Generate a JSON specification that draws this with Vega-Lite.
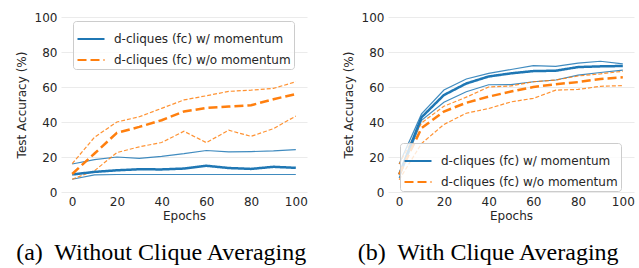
{
  "$schema": "https://vega.github.io/schema/vega-lite/v6.json",
  "padding": {"left": 15, "top": 11, "right": 0, "bottom": 0},
  "spacing": 34,
  "config": {
    "font": "DejaVu Sans",
    "view": {"stroke": null},
    "axis": {"domain": false, "ticks": false, "gridColor": "#ebebeb", "gridWidth": 1, "labelColor": "#262626", "titleColor": "#262626", "labelFontSize": 12, "titleFontSize": 12, "titleFontWeight": "normal", "labelFont": "DejaVu Sans", "titleFont": "DejaVu Sans"},
    "axisX": {"labelPadding": 4, "titlePadding": 3, "grid": false},
    "axisY": {"labelPadding": 4, "titlePadding": 6},
    "legend": {"title": null, "fillColor": "rgba(255,255,255,0.8)", "strokeColor": "#cccccc", "cornerRadius": 3, "padding": 3, "rowPadding": -11, "symbolType": "stroke", "symbolSize": 729, "symbolStrokeWidth": 2.2, "labelFontSize": 12, "labelColor": "#262626", "labelFont": "DejaVu Sans", "labelOffset": 8, "labelLimit": 400},
    "title": {"font": "Liberation Serif", "fontSize": 24, "fontWeight": "normal", "color": "#000000", "orient": "bottom", "frame": "bounds", "anchor": "middle", "offset": 20}
  },
  "datasets": {
    "a": [
      {"e": 0, "s": "d-cliques (fc) w/ momentum", "k": "mean", "v": 10},
      {"e": 10, "s": "d-cliques (fc) w/ momentum", "k": "mean", "v": 11.5},
      {"e": 20, "s": "d-cliques (fc) w/ momentum", "k": "mean", "v": 12.4},
      {"e": 30, "s": "d-cliques (fc) w/ momentum", "k": "mean", "v": 13},
      {"e": 40, "s": "d-cliques (fc) w/ momentum", "k": "mean", "v": 12.9},
      {"e": 50, "s": "d-cliques (fc) w/ momentum", "k": "mean", "v": 13.4},
      {"e": 60, "s": "d-cliques (fc) w/ momentum", "k": "mean", "v": 15},
      {"e": 70, "s": "d-cliques (fc) w/ momentum", "k": "mean", "v": 13.7},
      {"e": 80, "s": "d-cliques (fc) w/ momentum", "k": "mean", "v": 13.2},
      {"e": 90, "s": "d-cliques (fc) w/ momentum", "k": "mean", "v": 14.4},
      {"e": 100, "s": "d-cliques (fc) w/ momentum", "k": "mean", "v": 13.8},
      {"e": 0, "s": "d-cliques (fc) w/ momentum", "k": "hi", "v": 16},
      {"e": 10, "s": "d-cliques (fc) w/ momentum", "k": "hi", "v": 18.5},
      {"e": 20, "s": "d-cliques (fc) w/ momentum", "k": "hi", "v": 20},
      {"e": 30, "s": "d-cliques (fc) w/ momentum", "k": "hi", "v": 19.2},
      {"e": 40, "s": "d-cliques (fc) w/ momentum", "k": "hi", "v": 20.4},
      {"e": 50, "s": "d-cliques (fc) w/ momentum", "k": "hi", "v": 21.9},
      {"e": 60, "s": "d-cliques (fc) w/ momentum", "k": "hi", "v": 23.7},
      {"e": 70, "s": "d-cliques (fc) w/ momentum", "k": "hi", "v": 22.9},
      {"e": 80, "s": "d-cliques (fc) w/ momentum", "k": "hi", "v": 23.1},
      {"e": 90, "s": "d-cliques (fc) w/ momentum", "k": "hi", "v": 23.5},
      {"e": 100, "s": "d-cliques (fc) w/ momentum", "k": "hi", "v": 24.2},
      {"e": 0, "s": "d-cliques (fc) w/ momentum", "k": "lo", "v": 7.3},
      {"e": 10, "s": "d-cliques (fc) w/ momentum", "k": "lo", "v": 9.8},
      {"e": 20, "s": "d-cliques (fc) w/ momentum", "k": "lo", "v": 10},
      {"e": 30, "s": "d-cliques (fc) w/ momentum", "k": "lo", "v": 10},
      {"e": 40, "s": "d-cliques (fc) w/ momentum", "k": "lo", "v": 10},
      {"e": 50, "s": "d-cliques (fc) w/ momentum", "k": "lo", "v": 10},
      {"e": 60, "s": "d-cliques (fc) w/ momentum", "k": "lo", "v": 10},
      {"e": 70, "s": "d-cliques (fc) w/ momentum", "k": "lo", "v": 10},
      {"e": 80, "s": "d-cliques (fc) w/ momentum", "k": "lo", "v": 10},
      {"e": 90, "s": "d-cliques (fc) w/ momentum", "k": "lo", "v": 10},
      {"e": 100, "s": "d-cliques (fc) w/ momentum", "k": "lo", "v": 10},
      {"e": 0, "s": "d-cliques (fc) w/o momentum", "k": "mean", "v": 10.3},
      {"e": 10, "s": "d-cliques (fc) w/o momentum", "k": "mean", "v": 22},
      {"e": 20, "s": "d-cliques (fc) w/o momentum", "k": "mean", "v": 33.8},
      {"e": 30, "s": "d-cliques (fc) w/o momentum", "k": "mean", "v": 37.2},
      {"e": 40, "s": "d-cliques (fc) w/o momentum", "k": "mean", "v": 41},
      {"e": 50, "s": "d-cliques (fc) w/o momentum", "k": "mean", "v": 46},
      {"e": 60, "s": "d-cliques (fc) w/o momentum", "k": "mean", "v": 48},
      {"e": 70, "s": "d-cliques (fc) w/o momentum", "k": "mean", "v": 48.8},
      {"e": 80, "s": "d-cliques (fc) w/o momentum", "k": "mean", "v": 49.6},
      {"e": 90, "s": "d-cliques (fc) w/o momentum", "k": "mean", "v": 53},
      {"e": 100, "s": "d-cliques (fc) w/o momentum", "k": "mean", "v": 56},
      {"e": 0, "s": "d-cliques (fc) w/o momentum", "k": "hi", "v": 16.2},
      {"e": 10, "s": "d-cliques (fc) w/o momentum", "k": "hi", "v": 31.3},
      {"e": 20, "s": "d-cliques (fc) w/o momentum", "k": "hi", "v": 40},
      {"e": 30, "s": "d-cliques (fc) w/o momentum", "k": "hi", "v": 43},
      {"e": 40, "s": "d-cliques (fc) w/o momentum", "k": "hi", "v": 47.8},
      {"e": 50, "s": "d-cliques (fc) w/o momentum", "k": "hi", "v": 52.6},
      {"e": 60, "s": "d-cliques (fc) w/o momentum", "k": "hi", "v": 55},
      {"e": 70, "s": "d-cliques (fc) w/o momentum", "k": "hi", "v": 57.5},
      {"e": 80, "s": "d-cliques (fc) w/o momentum", "k": "hi", "v": 58.2},
      {"e": 90, "s": "d-cliques (fc) w/o momentum", "k": "hi", "v": 59.2},
      {"e": 100, "s": "d-cliques (fc) w/o momentum", "k": "hi", "v": 63},
      {"e": 0, "s": "d-cliques (fc) w/o momentum", "k": "lo", "v": 7.3},
      {"e": 10, "s": "d-cliques (fc) w/o momentum", "k": "lo", "v": 12.2},
      {"e": 20, "s": "d-cliques (fc) w/o momentum", "k": "lo", "v": 22.5},
      {"e": 30, "s": "d-cliques (fc) w/o momentum", "k": "lo", "v": 25.8},
      {"e": 40, "s": "d-cliques (fc) w/o momentum", "k": "lo", "v": 28.3},
      {"e": 50, "s": "d-cliques (fc) w/o momentum", "k": "lo", "v": 34.7},
      {"e": 60, "s": "d-cliques (fc) w/o momentum", "k": "lo", "v": 28.2},
      {"e": 70, "s": "d-cliques (fc) w/o momentum", "k": "lo", "v": 35.3},
      {"e": 80, "s": "d-cliques (fc) w/o momentum", "k": "lo", "v": 31.8},
      {"e": 90, "s": "d-cliques (fc) w/o momentum", "k": "lo", "v": 36.2},
      {"e": 100, "s": "d-cliques (fc) w/o momentum", "k": "lo", "v": 43.4}
    ],
    "b": [
      {"e": 0, "s": "d-cliques (fc) w/ momentum", "k": "mean", "v": 10},
      {"e": 10, "s": "d-cliques (fc) w/ momentum", "k": "mean", "v": 42.7},
      {"e": 20, "s": "d-cliques (fc) w/ momentum", "k": "mean", "v": 55.4},
      {"e": 30, "s": "d-cliques (fc) w/ momentum", "k": "mean", "v": 62},
      {"e": 40, "s": "d-cliques (fc) w/ momentum", "k": "mean", "v": 66},
      {"e": 50, "s": "d-cliques (fc) w/ momentum", "k": "mean", "v": 67.8},
      {"e": 60, "s": "d-cliques (fc) w/ momentum", "k": "mean", "v": 69.1},
      {"e": 70, "s": "d-cliques (fc) w/ momentum", "k": "mean", "v": 69.3},
      {"e": 80, "s": "d-cliques (fc) w/ momentum", "k": "mean", "v": 71.4},
      {"e": 90, "s": "d-cliques (fc) w/ momentum", "k": "mean", "v": 71.8},
      {"e": 100, "s": "d-cliques (fc) w/ momentum", "k": "mean", "v": 72},
      {"e": 0, "s": "d-cliques (fc) w/ momentum", "k": "hi", "v": 16},
      {"e": 10, "s": "d-cliques (fc) w/ momentum", "k": "hi", "v": 44.6},
      {"e": 20, "s": "d-cliques (fc) w/ momentum", "k": "hi", "v": 58.3},
      {"e": 30, "s": "d-cliques (fc) w/ momentum", "k": "hi", "v": 64.6},
      {"e": 40, "s": "d-cliques (fc) w/ momentum", "k": "hi", "v": 67.8},
      {"e": 50, "s": "d-cliques (fc) w/ momentum", "k": "hi", "v": 70},
      {"e": 60, "s": "d-cliques (fc) w/ momentum", "k": "hi", "v": 72.2},
      {"e": 70, "s": "d-cliques (fc) w/ momentum", "k": "hi", "v": 71.8},
      {"e": 80, "s": "d-cliques (fc) w/ momentum", "k": "hi", "v": 73.6},
      {"e": 90, "s": "d-cliques (fc) w/ momentum", "k": "hi", "v": 74.7},
      {"e": 100, "s": "d-cliques (fc) w/ momentum", "k": "hi", "v": 73.2},
      {"e": 0, "s": "d-cliques (fc) w/ momentum", "k": "lo", "v": 8},
      {"e": 10, "s": "d-cliques (fc) w/ momentum", "k": "lo", "v": 41},
      {"e": 20, "s": "d-cliques (fc) w/ momentum", "k": "lo", "v": 51.3},
      {"e": 30, "s": "d-cliques (fc) w/ momentum", "k": "lo", "v": 57.3},
      {"e": 40, "s": "d-cliques (fc) w/ momentum", "k": "lo", "v": 61.3},
      {"e": 50, "s": "d-cliques (fc) w/ momentum", "k": "lo", "v": 61.4},
      {"e": 60, "s": "d-cliques (fc) w/ momentum", "k": "lo", "v": 63},
      {"e": 70, "s": "d-cliques (fc) w/ momentum", "k": "lo", "v": 64},
      {"e": 80, "s": "d-cliques (fc) w/ momentum", "k": "lo", "v": 66.8},
      {"e": 90, "s": "d-cliques (fc) w/ momentum", "k": "lo", "v": 68.3},
      {"e": 100, "s": "d-cliques (fc) w/ momentum", "k": "lo", "v": 69.6},
      {"e": 0, "s": "d-cliques (fc) w/o momentum", "k": "mean", "v": 10},
      {"e": 10, "s": "d-cliques (fc) w/o momentum", "k": "mean", "v": 36.5},
      {"e": 20, "s": "d-cliques (fc) w/o momentum", "k": "mean", "v": 46},
      {"e": 30, "s": "d-cliques (fc) w/o momentum", "k": "mean", "v": 51},
      {"e": 40, "s": "d-cliques (fc) w/o momentum", "k": "mean", "v": 54.5},
      {"e": 50, "s": "d-cliques (fc) w/o momentum", "k": "mean", "v": 57.4},
      {"e": 60, "s": "d-cliques (fc) w/o momentum", "k": "mean", "v": 60},
      {"e": 70, "s": "d-cliques (fc) w/o momentum", "k": "mean", "v": 61.6},
      {"e": 80, "s": "d-cliques (fc) w/o momentum", "k": "mean", "v": 62.8},
      {"e": 90, "s": "d-cliques (fc) w/o momentum", "k": "mean", "v": 64.6},
      {"e": 100, "s": "d-cliques (fc) w/o momentum", "k": "mean", "v": 65.6},
      {"e": 0, "s": "d-cliques (fc) w/o momentum", "k": "hi", "v": 16},
      {"e": 10, "s": "d-cliques (fc) w/o momentum", "k": "hi", "v": 39.5},
      {"e": 20, "s": "d-cliques (fc) w/o momentum", "k": "hi", "v": 49},
      {"e": 30, "s": "d-cliques (fc) w/o momentum", "k": "hi", "v": 54.2},
      {"e": 40, "s": "d-cliques (fc) w/o momentum", "k": "hi", "v": 60},
      {"e": 50, "s": "d-cliques (fc) w/o momentum", "k": "hi", "v": 60.6},
      {"e": 60, "s": "d-cliques (fc) w/o momentum", "k": "hi", "v": 63},
      {"e": 70, "s": "d-cliques (fc) w/o momentum", "k": "hi", "v": 64},
      {"e": 80, "s": "d-cliques (fc) w/o momentum", "k": "hi", "v": 66.3},
      {"e": 90, "s": "d-cliques (fc) w/o momentum", "k": "hi", "v": 67.5},
      {"e": 100, "s": "d-cliques (fc) w/o momentum", "k": "hi", "v": 69},
      {"e": 0, "s": "d-cliques (fc) w/o momentum", "k": "lo", "v": 7},
      {"e": 10, "s": "d-cliques (fc) w/o momentum", "k": "lo", "v": 27.7},
      {"e": 20, "s": "d-cliques (fc) w/o momentum", "k": "lo", "v": 38.6},
      {"e": 30, "s": "d-cliques (fc) w/o momentum", "k": "lo", "v": 45},
      {"e": 40, "s": "d-cliques (fc) w/o momentum", "k": "lo", "v": 47.7},
      {"e": 50, "s": "d-cliques (fc) w/o momentum", "k": "lo", "v": 51.5},
      {"e": 60, "s": "d-cliques (fc) w/o momentum", "k": "lo", "v": 53.5},
      {"e": 70, "s": "d-cliques (fc) w/o momentum", "k": "lo", "v": 58.2},
      {"e": 80, "s": "d-cliques (fc) w/o momentum", "k": "lo", "v": 58.6},
      {"e": 90, "s": "d-cliques (fc) w/o momentum", "k": "lo", "v": 60.4},
      {"e": 100, "s": "d-cliques (fc) w/o momentum", "k": "lo", "v": 60.8}
    ]
  },
  "resolve": {"scale": {"color": "independent", "strokeDash": "independent"}, "legend": {"color": "independent", "strokeDash": "independent"}},
  "hconcat": [
    {
      "width": 246, "height": 175,
      "title": {"text": "(a)\u00a0 Without Clique Averaging"},
      "data": {"name": "a"},
      "encoding": {
        "x": {"field": "e", "type": "quantitative", "scale": {"domain": [-5, 105], "nice": false, "zero": false}, "axis": {"values": [0, 20, 40, 60, 80, 100], "title": "Epochs"}},
        "y": {"field": "v", "type": "quantitative", "scale": {"domain": [0, 100], "nice": false}, "axis": {"values": [0, 20, 40, 60, 80, 100], "title": "Test Accuracy (%)"}}
      },
      "layer": [
        {"transform": [{"filter": "datum.k != 'mean' && datum.s == 'd-cliques (fc) w/ momentum'"}], "mark": {"type": "line", "stroke": "#1f77b4", "strokeWidth": 1.2, "opacity": 0.85}, "encoding": {"detail": {"field": "k"}}},
        {"transform": [{"filter": "datum.k != 'mean' && datum.s == 'd-cliques (fc) w/o momentum'"}], "mark": {"type": "line", "stroke": "#ff7f0e", "strokeWidth": 1.2, "strokeDash": [4, 2], "opacity": 0.85}, "encoding": {"detail": {"field": "k"}}},
        {"transform": [{"filter": "datum.k == 'mean'"}], "mark": {"type": "line", "strokeWidth": 2.5},
         "encoding": {
           "color": {"field": "s", "type": "nominal", "scale": {"domain": ["d-cliques (fc) w/ momentum", "d-cliques (fc) w/o momentum"], "range": ["#1f77b4", "#ff7f0e"]}, "legend": {"orient": "none", "legendX": 12, "legendY": 4}},
           "strokeDash": {"field": "s", "type": "nominal", "scale": {"domain": ["d-cliques (fc) w/ momentum", "d-cliques (fc) w/o momentum"], "range": [[1, 0], [9, 4]]}, "legend": {"orient": "none", "legendX": 12, "legendY": 4}}
         }}
      ]
    },
    {
      "width": 246, "height": 175,
      "title": {"text": "(b)\u00a0 With Clique Averaging"},
      "data": {"name": "b"},
      "encoding": {
        "x": {"field": "e", "type": "quantitative", "scale": {"domain": [-5, 105], "nice": false, "zero": false}, "axis": {"values": [0, 20, 40, 60, 80, 100], "title": "Epochs"}},
        "y": {"field": "v", "type": "quantitative", "scale": {"domain": [0, 100], "nice": false}, "axis": {"values": [0, 20, 40, 60, 80, 100], "title": "Test Accuracy (%)"}}
      },
      "layer": [
        {"transform": [{"filter": "datum.k != 'mean' && datum.s == 'd-cliques (fc) w/ momentum'"}], "mark": {"type": "line", "stroke": "#1f77b4", "strokeWidth": 1.2, "opacity": 0.85}, "encoding": {"detail": {"field": "k"}}},
        {"transform": [{"filter": "datum.k != 'mean' && datum.s == 'd-cliques (fc) w/o momentum'"}], "mark": {"type": "line", "stroke": "#ff7f0e", "strokeWidth": 1.2, "strokeDash": [4, 2], "opacity": 0.85}, "encoding": {"detail": {"field": "k"}}},
        {"transform": [{"filter": "datum.k == 'mean'"}], "mark": {"type": "line", "strokeWidth": 2.5},
         "encoding": {
           "color": {"field": "s", "type": "nominal", "scale": {"domain": ["d-cliques (fc) w/ momentum", "d-cliques (fc) w/o momentum"], "range": ["#1f77b4", "#ff7f0e"]}, "legend": {"orient": "none", "legendX": 12, "legendY": 126}},
           "strokeDash": {"field": "s", "type": "nominal", "scale": {"domain": ["d-cliques (fc) w/ momentum", "d-cliques (fc) w/o momentum"], "range": [[1, 0], [9, 4]]}, "legend": {"orient": "none", "legendX": 12, "legendY": 126}}
         }}
      ]
    }
  ]
}
